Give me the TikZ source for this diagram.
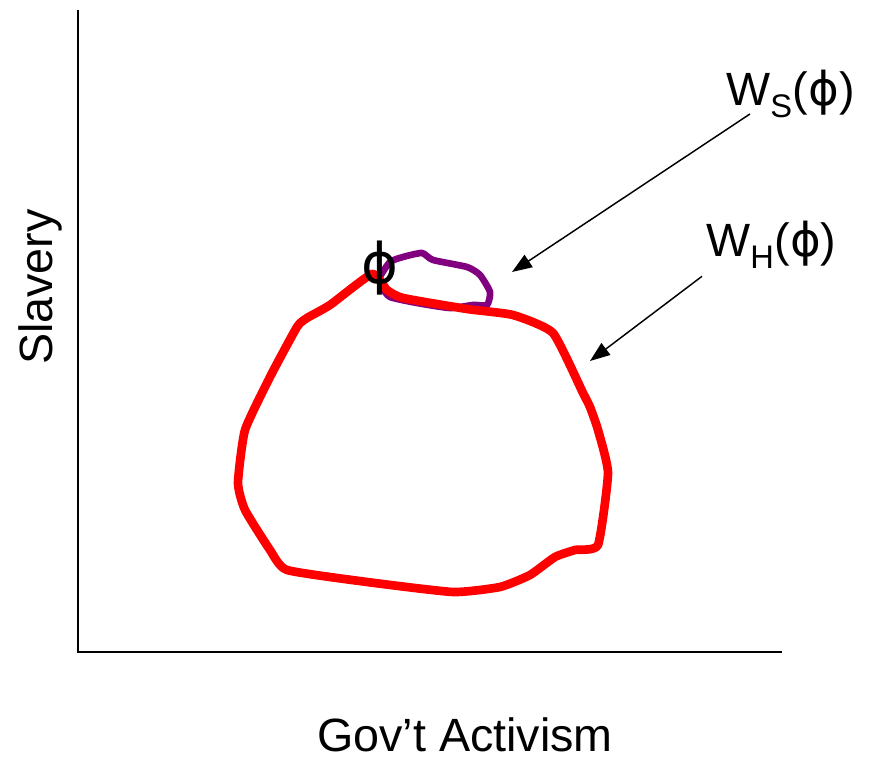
\documentclass[tikz,border=0pt]{standalone}
\usepackage{fontspec}
\setmainfont{Liberation Sans}
\newfontfamily\phifont{DejaVu Sans}
\usepackage{tikz}
\usetikzlibrary{arrows.meta, calc}
\definecolor{setred}{RGB}{255,0,0}
\definecolor{setpurple}{RGB}{128,0,128}
\newcommand{\ph}{{\phifont ϕ}}

\begin{document}
\begin{tikzpicture}[x=0.75pt, y=-0.75pt, font=\fontsize{35}{42}\selectfont,
          axis/.style={line width=1.5pt},
          lbl/.style={inner sep=0pt},
          pointer/.style={-{Triangle[length=15pt, width=11pt]}, line width=1.1pt},
          winset/.style={line width=#1, line join=round, line cap=round}]
        \useasboundingbox (0,0) rectangle (886,762);
        % axes
        \coordinate (O) at (78,652);
        \coordinate (Ytop) at (78,10);
        \coordinate (Xend) at (782,652);
        \draw[axis] (Ytop) -- (O) -- (Xend);
        \node[lbl, rotate=90] (ylab) at (40,287) {Slavery};
        \node[lbl] (xlab) at (465,735) {Gov’t Activism};
        % win sets
        \draw[winset=5pt, setpurple] plot[smooth cycle, tension=0.35] coordinates {
          (380,277) (390,262) (403,257) (422,253) (433,260) (467,267) (480,275)
          (490,292) (487,305) (473,305) (450,308) (417,303) (390,297) (382,287)};
        \draw[winset=6.5pt, setred] plot[smooth cycle, tension=0.3] coordinates {
          (372,274) (330,305) (307,318) (297,327) (270,377) (245,430) (238,483)
          (245,510) (270,550) (287,570) (367,582) (453,592) (500,587) (530,575)
          (555,557) (575,550) (598,545) (608,473) (598,430) (590,407) (583,393) (553,333)
          (513,315) (467,309) (403,298) (387,290)};
        \node[lbl, font=\fontsize{42}{46}\selectfont] (phi) at (380,268) {\ph};
        % labels
        \node[lbl, anchor=base west] (WS) at (726,106) {W\textsubscript{S}(\ph)};
        \node[lbl, anchor=base west] (WH) at (706,257) {W\textsubscript{H}(\ph)};
        \coordinate (wsTip) at (512,272);
        \coordinate (whTip) at (590,361);
        \draw[pointer] ($(WS.south west)+(24,-4)$) -- (wsTip);
        \draw[pointer] ($(WH.south west)+(-4,8)$) -- (whTip);
      \end{tikzpicture}
\end{document}
